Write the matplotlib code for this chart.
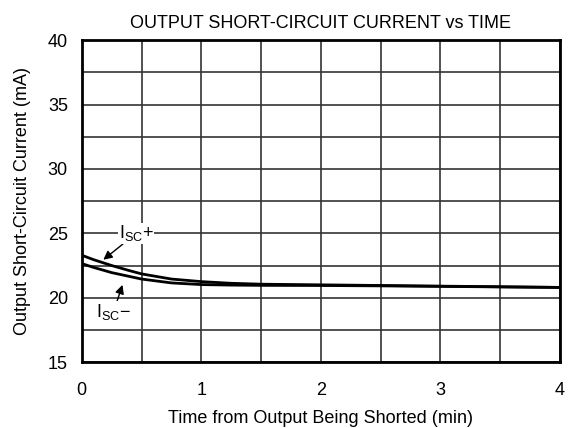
import matplotlib.pyplot as plt

plt.rcParams['font.family'] = ['Liberation Sans', 'DejaVu Sans']

time_min = [0, 0.1, 0.25, 0.4, 0.5, 0.75, 1.0, 1.25, 1.5, 2.0, 2.5, 3.0, 3.5, 4.0]
isc_plus = [23.3, 22.95, 22.5, 22.1, 21.85, 21.45, 21.25, 21.12, 21.05, 21.0, 20.95, 20.9, 20.85, 20.8]
isc_minus = [22.65, 22.35, 21.95, 21.65, 21.45, 21.15, 21.02, 20.98, 20.96, 20.95, 20.92, 20.88, 20.84, 20.8]

fig = plt.figure(figsize=(5.72, 4.28), dpi=100)
ax = fig.add_axes([0.143, 0.154, 0.836, 0.752])

ax.plot(time_min, isc_plus, color='black', lw=2)
ax.plot(time_min, isc_minus, color='black', lw=2)

ax.set_xlim(0, 4)
ax.set_ylim(15, 40)
ax.set_xticks([0, 1, 2, 3, 4])
ax.set_yticks([15, 20, 25, 30, 35, 40])
ax.set_xticks([x * 0.5 for x in range(9)], minor=True)
ax.set_yticks([15 + y * 2.5 for y in range(11)], minor=True)
ax.grid(which='both', color='#333333', lw=1.2)
ax.tick_params(which='both', length=0, labelsize=13)
ax.tick_params(axis='x', pad=14)
ax.tick_params(axis='y', pad=10)
for s in ax.spines.values():
    s.set_linewidth(2)

ax.set_title('OUTPUT SHORT-CIRCUIT CURRENT vs TIME', fontsize=13, pad=9)
ax.set_xlabel('Time from Output Being Shorted (min)', fontsize=13, labelpad=8)
ax.set_ylabel('Output Short-Circuit Current (mA)', fontsize=13, labelpad=12)

ax.annotate('I$_{\\mathregular{SC}}$+', xy=(0.18, 22.95), xytext=(0.31, 25.0),
            fontsize=13, ha='left', va='center',
            bbox=dict(fc='white', ec='none', pad=0.5),
            arrowprops=dict(arrowstyle='-|>', color='black', lw=1, shrinkA=0, shrinkB=0))
ax.annotate('I$_{\\mathregular{SC}}$\u2212', xy=(0.34, 21.0), xytext=(0.12, 18.9),
            fontsize=13, ha='left', va='center',
            bbox=dict(fc='white', ec='none', pad=0.5),
            arrowprops=dict(arrowstyle='-|>', color='black', lw=1, shrinkA=0, shrinkB=0))

fig.savefig('out.png', dpi=100)
